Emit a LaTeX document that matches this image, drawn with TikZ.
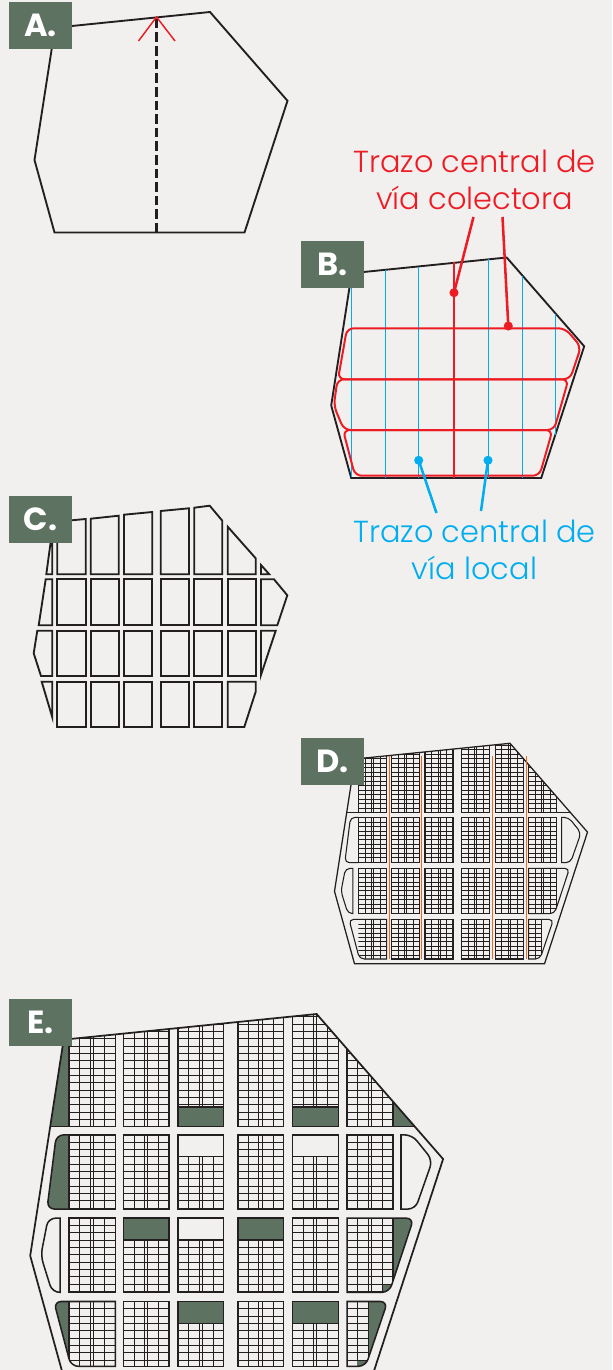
\documentclass[tikz,border=0pt]{standalone}
\usepackage{fontspec}
\setmainfont{Poppins}
\newfontfamily\capfont{Poppins Light}
\definecolor{bg}{HTML}{F1F0EE}
\definecolor{sage}{HTML}{5E7261}
\definecolor{ink}{HTML}{231F20}
\definecolor{rojo}{HTML}{ED1C24}
\definecolor{azul}{HTML}{00AEEF}
\definecolor{naranja}{HTML}{F26522}
\newif\ifpartE
\tikzset{
  tag/.style={fill=sage,text=white,minimum width=47.25pt,minimum height=35pt,inner sep=0pt,font=\fontsize{24}{24}\selectfont\bfseries},
  outline/.style={draw=ink,line width=1.4pt,line join=miter},
  bigcap/.style={font=\capfont\fontsize{22.8}{28}\selectfont,align=center,inner sep=0pt},
  dotr/.style={circle,fill=rojo,minimum size=6.8pt,inner sep=0pt},
  dotb/.style={circle,fill=azul,minimum size=6.8pt,inner sep=0pt},
  blk/.style={draw=ink,line width=\blkw},
  lot/.style={draw=ink,line width=\lotw},
}
\newcommand\polypath{(55,27.7) -- (210,12) -- (287.5,100.8) -- (244.5,232.5) -- (54.5,232.5) -- (34.5,160) -- cycle}
% grid of lots: x0 x1 ytop ybot ystart
\newcommand\lots[5]{%
  \begin{scope}
    \clip (#1,#3) rectangle (#2,#4);
    \foreach \f in {.23,.46,.53,.77}{\draw[lot] ({#1+\f*(#2-#1)},#3) -- ({#1+\f*(#2-#1)},#4);}
    \foreach \k in {-17,...,17}{\draw[lot] (#1,{#5+\k*4.49}) -- (#2,{#5+\k*4.49});}
  \end{scope}}
\newcommand\blockplain[5]{\lots{#1}{#2}{#3}{#4}{#5}\draw[blk] (#1,#3) rectangle (#2,#4);}
% block whose top part is a park (green) in E
\newcommand\blockgreen[6]{%
  \ifpartE
    \fill[sage] (#1,#3) rectangle (#2,#6);
    \lots{#1}{#2}{#6}{#4}{#5}
    \draw[blk] (#1,#3) rectangle (#2,#4);
    \draw[blk] (#1,#6) -- (#2,#6);
  \else\blockplain{#1}{#2}{#3}{#4}{#5}\fi}
% block whose bottom part is a park (green) in E
\newcommand\blockgreenlow[6]{%
  \ifpartE
    \fill[sage] (#1,#6) rectangle (#2,#4);
    \lots{#1}{#2}{#3}{#6}{#5}
    \draw[blk] (#1,#3) rectangle (#2,#4);
    \draw[blk] (#1,#6) -- (#2,#6);
  \else\blockplain{#1}{#2}{#3}{#4}{#5}\fi}
\newcommand\blockblank[6]{%
  \ifpartE
    \lots{#1}{#2}{#6}{#4}{#5}
    \draw[blk] (#1,#3) rectangle (#2,#4);
    \draw[blk] (#1,#6) -- (#2,#6);
  \else\blockplain{#1}{#2}{#3}{#4}{#5}\fi}
\newcommand\parcel{%
  % row 1
  \begin{scope}
    \clip \polypath;
    \ifpartE
      \fill[sage] (20,0) rectangle (58.3,81);
      \fill[sage] (256.7,0) rectangle (300,81);
    \fi
    \draw[blk] (20,0) rectangle (58.3,81);
    \draw[blk] (256.7,0) rectangle (300,81);
    \blockplain{58.3}{86.7}{0}{81}{81}
    \blockplain{91.7}{119.7}{0}{81}{81}
    \blockgreenlow{125}{153}{0}{81}{81}{68.8}
    \blockplain{161.7}{189.7}{0}{81}{81}
    \blockgreenlow{195.3}{223.3}{0}{81}{81}{68.8}
    \blockplain{228.7}{256.7}{0}{81}{81}
  \end{scope}
  % row 2
  \ifpartE\fill[sage]\else\path\fi (58.3,86) [rounded corners=\rc] -- (50.5,86) -- (44.8,131.4) [sharp corners] -- (58.3,131.4) -- cycle;
  \draw[blk] (58.3,86) [rounded corners=\rc] -- (50.5,86) -- (44.8,131.4) [sharp corners] -- (58.3,131.4);
  \blockplain{58.3}{86.7}{86}{131.4}{86}
  \blockplain{91.7}{119.7}{86}{131.4}{86}
  \blockblank{125}{153}{86}{131.4}{86}{99.3}
  \blockplain{161.7}{189.7}{86}{131.4}{86}
  \blockblank{195.3}{223.3}{86}{131.4}{86}{99.3}
  \blockplain{228.7}{256.7}{86}{131.4}{86}
  \draw[blk] (261.7,86) [rounded corners=\rc] -- (268.5,86) -- (281,101.5) -- (270.5,131.4) [sharp corners] -- (261.7,131.4) -- cycle;
  % row 3
  \draw[blk] (52.8,137) [rounded corners=\rc] -- (45.5,137) -- (41,160) -- (48,182.4) [sharp corners] -- (52.8,182.4) -- cycle;
  \blockplain{58.3}{86.7}{137}{182.4}{137}
  \blockgreen{91.7}{119.7}{137}{182.4}{137}{150.3}
  \blockblank{125}{153}{137}{182.4}{137}{150.3}
  \blockgreen{161.7}{189.7}{137}{182.4}{137}{150.3}
  \blockplain{195.3}{223.3}{137}{182.4}{137}
  \ifpartE
    \fill[sage] (228.7,137) [rounded corners=\rc] -- (269.5,137) -- (254.5,182.4) [sharp corners] -- (228.7,182.4) -- cycle;
  \fi
  \begin{scope}
    \clip (228.7,137) [rounded corners=\rc] -- (269.5,137) -- (254.5,182.4) [sharp corners] -- (228.7,182.4) -- cycle;
    \ifpartE\fill[bg] (228.7,137) rectangle (256.7,182.4);\fi
    \lots{228.7}{256.7}{137}{182.4}{137}
    \ifpartE
      \fill[sage] (250.5,177.5) rectangle (256.7,182.4);
      \draw[lot] (250.5,177.5) -- (256.7,177.5);
    \fi
    \draw[blk] (256.7,137) -- (256.7,182.4);
  \end{scope}
  \draw[blk] (228.7,137) [rounded corners=\rc] -- (269.5,137) -- (254.5,182.4) [sharp corners] -- (228.7,182.4) -- cycle;
  % row 4
  \ifpartE
    \fill[sage] (86.7,188) [rounded corners=\rc] -- (49,188) -- (59.5,227.7) [sharp corners] -- (86.7,227.7) -- cycle;
  \fi
  \begin{scope}
    \clip (86.7,188) [rounded corners=\rc] -- (49,188) -- (59.5,227.7) [sharp corners] -- (86.7,227.7) -- cycle;
    \ifpartE\fill[bg] (58.3,188) rectangle (86.7,227.7);\fi
    \lots{58.3}{86.7}{188}{227.7}{188}
    \ifpartE\draw[blk] (58.3,188) -- (58.3,227.7);\fi
  \end{scope}
  \draw[blk] (86.7,188) [rounded corners=\rc] -- (49,188) -- (59.5,227.7) [sharp corners] -- (86.7,227.7) -- cycle;
  \blockplain{91.7}{119.7}{188}{227.7}{188}
  \blockgreen{125}{153}{188}{227.7}{188}{201.5}
  \blockplain{161.7}{189.7}{188}{227.7}{188}
  \blockgreen{195.3}{223.3}{188}{227.7}{188}{201.5}
  \ifpartE
    \fill[sage] (228.7,188) [rounded corners=\rc] -- (253.5,188) -- (240,227.7) [sharp corners] -- (228.7,227.7) -- cycle;
  \fi
  \begin{scope}
    \clip (228.7,188) [rounded corners=\rc] -- (253.5,188) -- (240,227.7) [sharp corners] -- (228.7,227.7) -- cycle;
    \ifpartE\fill[bg] (228.7,188) rectangle (241.7,227.7);\fi
    \draw[lot] (235.1,188) -- (235.1,227.7);
    \foreach \k in {1,...,8}{\draw[lot] (228.7,{188+\k*4.49}) -- (241.7,{188+\k*4.49});}
    \ifpartE
      \fill[sage] (234.9,224) rectangle (241.7,227.7);
      \draw[lot] (234.9,224) -- (241.7,224);
    \fi
    \draw[blk] (241.7,188) -- (241.7,227.7);
  \end{scope}
  \draw[blk] (228.7,188) [rounded corners=\rc] -- (253.5,188) -- (240,227.7) [sharp corners] -- (228.7,227.7) -- cycle;
  % outer boundary
  \draw[draw=ink,line width=\outw,line join=miter] \polypath;
}
\begin{document}
\begin{tikzpicture}[x=0.75pt,y=-0.75pt]
\useasboundingbox (0,0) rectangle (612,1370);
\clip (0,0) rectangle (612,1370);
\fill[bg] (0,0) rectangle (612,1370);

% ---------- A
\draw[outline] \polypath;
\coordinate (apexA) at (156.5,17);
\coordinate (baseA) at (156.5,232.5);
\coordinate (tipL) at (138.5,41);
\coordinate (tipR) at (175,41);
\draw[draw=ink,line width=1.7pt,dash pattern=on 7.2pt off 3pt] (baseA) -- (apexA);
\draw[rojo,line width=1.1pt] (tipL) -- (apexA) -- (tipR);

% ---------- B
\begin{scope}[shift={(296.7,245.5)}]
  \draw[outline] \polypath;
\end{scope}
\begin{scope}[azul,line width=.9pt]
  \draw (351.3,287) -- (351.3,477);
  \draw (385.3,270) -- (385.3,478);
  \draw (418.3,267) -- (418.3,478);
  \draw (488.3,259) -- (488.3,478);
  \draw (522.7,276) -- (522.7,478);
  \draw (555.7,313.5) -- (555.7,435);
\end{scope}
\begin{scope}[rojo,line width=1.5pt]
  \draw[line width=1.7pt] (453.7,262.3) -- (453.7,478);
  \draw[rounded corners=5pt] (450,328.3) -- (565,328.3) -- (581,346.7) -- (570,379.3) -- (338,379.3) -- (347,328.3) -- (450,328.3);
  \draw[rounded corners=5pt] (450,379.3) -- (568.5,379.3) -- (554,430) -- (344,430) -- (333.8,405.7) -- (337.5,379.3) -- (450,379.3);
  \draw[rounded corners=5pt] (450,430) -- (552.5,430) -- (539.5,475.7) -- (355,475.7) -- (343,430) -- (450,430);
\end{scope}

% ---------- C
\begin{scope}[outline]
  \draw (52.3,530) -- (52.3,574.3) -- (46.3,574.3) -- cycle;
  \draw (57.3,521.6) -- (85.7,519) -- (85.7,574.3) -- (57.3,574.3) -- cycle;
  \draw (90.7,518.7) -- (118.7,515.7) -- (118.7,574.3) -- (90.7,574.3) -- cycle;
  \draw (124,514.7) -- (152.3,512) -- (152.3,574.3) -- (124,574.3) -- cycle;
  \draw (160.7,511) -- (189,508.3) -- (189,574.3) -- (160.7,574.3) -- cycle;
  \draw (194.3,507.7) -- (209.7,505.7) -- (222.3,520.7) -- (222.3,574.3) -- (194.3,574.3) -- cycle;
  \draw (227.7,526.7) -- (255.7,558.3) -- (255.7,574.3) -- (227.7,574.3) -- cycle;
  \draw (261,565) -- (269.3,574.3) -- (261,574.3) -- cycle;
  \draw (45.7,579.3) -- (52.3,579.3) -- (52.3,625.3) -- (38.7,625.3) -- cycle;
  \draw (261,579.3) -- (274,579.3) -- (287.3,595.3) -- (277.3,625.3) -- (261,625.3) -- cycle;
  \draw (37.3,630.7) -- (52.3,630.7) -- (52.3,676) -- (41,676) -- (33.7,653.3) -- cycle;
  \draw (261,630.7) -- (275.7,630.7) -- (261,675) -- cycle;
  \draw (41.7,681.7) -- (52.3,681.7) -- (52.3,717.3) -- cycle;
  \draw (227.7,681.7) -- (255.7,681.7) -- (255.7,691.7) -- (244.3,727) -- (227.7,727) -- cycle;
  \foreach \ya/\yb in {579.3/625.3,630.7/676,681.7/727}{
    \draw (57.3,\ya) rectangle (85.7,\yb);
    \draw (90.7,\ya) rectangle (118.7,\yb);
    \draw (124,\ya) rectangle (152.3,\yb);
    \draw (160.7,\ya) rectangle (189,\yb);
    \draw (194.3,\ya) rectangle (222.3,\yb);
  }
  \foreach \ya/\yb in {579.3/625.3,630.7/676}{
    \draw (227.7,\ya) rectangle (255.7,\yb);
  }
\end{scope}

% ---------- D
\begin{scope}[shift={(300,731.3)}]
  \def\rc{3.5pt}\def\blkw{.8pt}\def\lotw{.42pt}\def\outw{.95pt}
  \partEfalse
  \parcel
  \begin{scope}[naranja,line width=.8pt]
    \draw (89.3,24.4) -- (89.3,227.7);
    \draw (121.3,24.4) -- (121.3,227.7);
    \draw (192.3,24.4) -- (192.3,227.7);
    \draw (226.7,25) -- (226.7,227.7);
  \end{scope}
\end{scope}

% ---------- E
\begin{scope}[shift={(-26.1,994.4)},x=1.224pt,y=-1.225pt]
  \def\rc{5.5pt}\def\blkw{1.15pt}\def\lotw{.6pt}\def\outw{1.3pt}
  \partEtrue
  \parcel
\end{scope}

% ---------- tags
\node[tag] (tagA) at (40.5,25.3) {\raisebox{-2.5pt}{A.}};
\node[tag] (tagB) at (332.5,264.3) {\raisebox{-2.5pt}{B.}};
\node[tag] (tagC) at (40.5,519.3) {\raisebox{-2.5pt}{C.}};
\node[tag] (tagD) at (332.5,761.7) {\raisebox{-2.5pt}{D.}};
\node[tag] (tagE) at (40.5,1022.3) {\raisebox{-2.5pt}{E.}};

% ---------- captions and leaders
\node[bigcap,rojo] (capR) at (474.5,180) {Trazo central de\\vía colectora};
\node[bigcap,azul] (capB) at (474.5,550) {Trazo central de\\vía local};
\node[dotr] (r1) at (454,292.7) {};
\node[dotr] (r2) at (508.3,326) {};
\node[dotb] (b1) at (418.7,460.3) {};
\node[dotb] (b2) at (488,460.3) {};
\coordinate (rl1) at (473.5,217);
\coordinate (rl2) at (502.5,217);
\coordinate (bl1) at (436.5,513);
\coordinate (bl2) at (481,511);
\draw[rojo,line width=1.9pt] (r1.center) -- (rl1);
\draw[rojo,line width=1.9pt] (r2.center) -- (rl2);
\draw[azul,line width=1.9pt] (b1.center) -- (bl1);
\draw[azul,line width=1.9pt] (b2.center) -- (bl2);
\end{tikzpicture}
\end{document}
